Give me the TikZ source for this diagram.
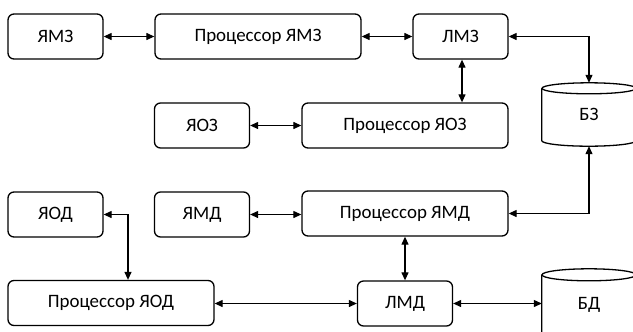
\documentclass[tikz,border=0pt]{standalone}
\usepackage{fontspec}
\setmainfont{Carlito}
\usetikzlibrary{arrows.meta,calc}
\begin{document}
\begin{tikzpicture}[x=1bp,y=-1bp,
  blk/.style={draw,line width=1.3bp,rounded corners=6bp,minimum height=45bp,inner sep=0pt,font=\fontsize{19}{22}\selectfont},
  small/.style={blk,minimum width=95bp},
  big/.style={blk,minimum width=206bp},
  conn/.style={line width=1.2bp,{Triangle[length=8bp,width=7bp]}-{Triangle[length=8bp,width=7bp]}},
  cylbody/.style={line width=1.3bp},
  holder/.style={minimum width=94bp,inner sep=0pt,font=\fontsize{19}{22}\selectfont}]
\clip (0,0) rectangle (633,331);
\fill[white] (0,0) rectangle (633,331);
% nodes
\node[small] (ymz) at (55.5,36.5) {ЯМЗ};
\node[big] (pymz) at (258,36.5) {Процессор ЯМЗ};
\node[small] (lmz) at (460.5,36.5) {ЛМЗ};
\node[small] (yoz) at (202,125.5) {ЯОЗ};
\node[big] (pyoz) at (405,125.5) {Процессор ЯОЗ};
\node[small] (yod) at (55.5,214.5) {ЯОД};
\node[small] (ymd) at (202,214.5) {ЯМД};
\node[big] (pymd) at (405,213.5) {Процессор ЯМД};
\node[big] (pyod) at (111,303) {Процессор ЯОД};
\node[small] (lmd) at (405,303.5) {ЛМД};
% cylinders
\node[holder,minimum height=63bp] (bz) at (589,114.5) {БЗ};
\draw[cylbody] ($(bz.north west)+(0,5.5)$)
  -- ($(bz.south west)+(0,-5.5)$) arc[start angle=180,end angle=360,x radius=47bp,y radius=5.5bp]
  -- ($(bz.north east)+(0,5.5)$);
\draw[cylbody] ($(bz.north)+(0,5.5)$) ellipse[x radius=47bp,y radius=5.5bp];
\node[holder,minimum height=72bp] (bd) at (589,305) {БД};
\draw[cylbody] ($(bd.north west)+(0,6)$)
  -- ($(bd.south west)+(0,-5.5)$) arc[start angle=180,end angle=360,x radius=47bp,y radius=5.5bp]
  -- ($(bd.north east)+(0,6)$);
\draw[cylbody] ($(bd.north)+(0,6)$) ellipse[x radius=47bp,y radius=6bp];
% connectors
\coordinate (c1) at (128,0);
\coordinate (c2) at (462,0);
\draw[conn] (ymz) -- (pymz);
\draw[conn] (pymz) -- (lmz);
\draw[conn] (lmz.east) -| (bz.north);
\draw[conn] (lmz.south -| c2) -- (pyoz.north -| c2);
\draw[conn] (yoz) -- (pyoz);
\draw[conn] (ymd) -- (pymd.west |- ymd);
\draw[conn] (pymd.east) -| (bz.south);
\draw[conn] (yod.east) -| (c1 |- pyod.north);
\draw[conn] (pymd.south) -- (lmd.north);
\draw[conn] (pyod.east |- lmd) -- (lmd.west);
\draw[conn] (lmd.east) -- (lmd.east -| bd.west);
\end{tikzpicture}
\end{document}
